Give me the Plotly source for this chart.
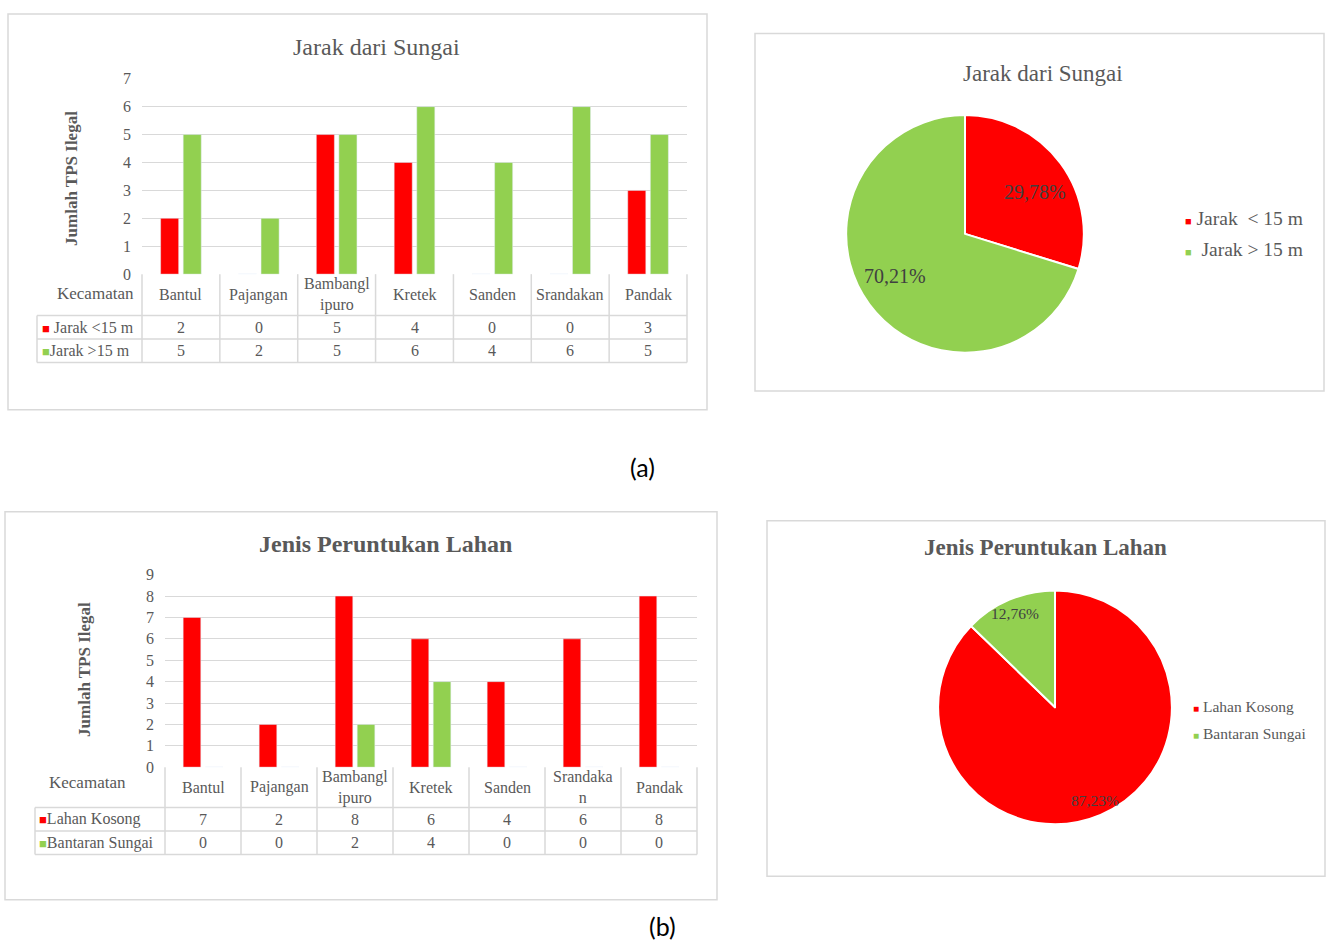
import math
import plotly.graph_objects as go

W, H = 1328, 951

# ---------------- data ----------------
kecamatan = ["Bantul", "Pajangan", "Bambanglipuro", "Kretek", "Sanden", "Srandakan", "Pandak"]
header_a = ["Bantul", "Pajangan", "Bambangl<br>ipuro", "Kretek", "Sanden", "Srandakan", "Pandak"]
header_b = ["Bantul", "Pajangan", "Bambangl<br>ipuro", "Kretek", "Sanden", "Srandaka<br>n", "Pandak"]

jarak_lt15 = [2, 0, 5, 4, 0, 0, 3]
jarak_gt15 = [5, 2, 5, 6, 4, 6, 5]
series_a_names = ["&nbsp;Jarak &lt;15 m", "Jarak &gt;15 m"]

lahan_kosong = [7, 2, 8, 6, 4, 6, 8]
bantaran_sungai = [0, 0, 2, 4, 0, 0, 0]
series_b_names = ["Lahan Kosong", "Bantaran Sungai"]

pie_a_labels = ["Jarak < 15 m", "Jarak > 15 m"]
pie_a_legend = ["Jarak&nbsp; &lt; 15 m", "&nbsp;Jarak &gt; 15 m"]
pie_a_values = [29.78, 70.21]

pie_b_labels = ["Lahan Kosong", "Bantaran Sungai"]
pie_b_values = [87.23, 12.76]

yticks_a = [0, 1, 2, 3, 4, 5, 6, 7]
yticks_b = [0, 1, 2, 3, 4, 5, 6, 7, 8, 9]

RED = "#FF0000"
GREEN = "#92D050"
TXT = "#595959"
PIE_TXT = "#404040"
GRID = "#D9D9D9"
SERIF = "Liberation Serif, Times New Roman, serif"
SANS = "Lato, Carlito, Calibri, sans-serif"


def px(x):
    return x / W


def py(y):
    return 1 - y / H


fig = go.Figure()

# ---------------- bar chart (a) ----------------
fig.add_trace(go.Bar(x=kecamatan, y=jarak_lt15, marker_color=RED, xaxis="x", yaxis="y",
                     showlegend=False, name="Jarak <15 m"))
fig.add_trace(go.Bar(x=kecamatan, y=jarak_gt15, marker_color=GREEN, xaxis="x", yaxis="y",
                     showlegend=False, name="Jarak >15 m"))
# ---------------- bar chart (b) ----------------
fig.add_trace(go.Bar(x=kecamatan, y=lahan_kosong, marker_color=RED, xaxis="x2", yaxis="y2",
                     showlegend=False, name="Lahan Kosong"))
fig.add_trace(go.Bar(x=kecamatan, y=bantaran_sungai, marker_color=GREEN, xaxis="x2", yaxis="y2",
                     showlegend=False, name="Bantaran Sungai"))

# ---------------- pies ----------------
PIE_A = dict(cx=965, cy=230, r=121, lab_r=0.68, size=20, rot=5)
PIE_B = dict(cx=1055, cy=712, r=119, lab_r=0.87, size=15.5, rot=0)


def add_pie(labels, values, g):
    fig.add_trace(go.Pie(
        labels=labels, values=values, sort=False, direction="clockwise", rotation=0,
        textinfo="none", showlegend=False,
        marker=dict(colors=[RED, GREEN], line=dict(color="white", width=2)),
        domain=dict(x=[px(g["cx"] - g["r"]), px(g["cx"] + g["r"])],
                    y=[py(g["cy"] + g["r"]), py(g["cy"] - g["r"])])))


add_pie(pie_a_labels, pie_a_values, PIE_A)
add_pie(pie_b_labels, pie_b_values, PIE_B)

# geometry of bar plots
A_X0, A_X1, A_Y0, A_Y1 = 142, 687, 271, 72
B_X0, B_X1, B_Y0, B_Y1 = 165, 697, 773, 577

axis_common = dict(showline=False, zeroline=False, ticks="", fixedrange=True)
fig.update_layout(
    width=W, height=H, margin=dict(l=0, r=0, t=0, b=0),
    paper_bgcolor="white", plot_bgcolor="white",
    separators=",.",
    barmode="group", bargap=0.42, bargroupgap=0.2,
    font=dict(family=SERIF, color=TXT),
    xaxis=dict(domain=[px(A_X0), px(A_X1)], showticklabels=False, showgrid=False,
               anchor="y", **axis_common),
    yaxis=dict(domain=[py(A_Y0), py(A_Y1)], range=[0, 7], tickvals=yticks_a,
               showgrid=True, gridcolor=GRID, gridwidth=1, anchor="x",
               tickfont=dict(family=SERIF, size=16, color=TXT), ticklabelstandoff=10,
               **axis_common),
    xaxis2=dict(domain=[px(B_X0), px(B_X1)], showticklabels=False, showgrid=False,
                anchor="y2", **axis_common),
    yaxis2=dict(domain=[py(B_Y0), py(B_Y1)], range=[0, 9], tickvals=yticks_b,
                showgrid=True, gridcolor=GRID, gridwidth=1, anchor="x2",
                tickfont=dict(family=SERIF, size=16, color=TXT), ticklabelstandoff=10,
                **axis_common),
)

shapes = []
annotations = []


def rect(x0, y0, x1, y1):
    shapes.append(dict(type="rect", xref="paper", yref="paper",
                       x0=px(x0), x1=px(x1), y0=py(y0), y1=py(y1),
                       line=dict(color=GRID, width=1.5), fillcolor="rgba(0,0,0,0)", layer="below"))


def hline(x0, x1, y):
    shapes.append(dict(type="line", xref="paper", yref="paper",
                       x0=px(x0), x1=px(x1), y0=py(y), y1=py(y),
                       line=dict(color=GRID, width=1.5)))


def vline(x, y0, y1):
    shapes.append(dict(type="line", xref="paper", yref="paper",
                       x0=px(x), x1=px(x), y0=py(y0), y1=py(y1),
                       line=dict(color=GRID, width=1.5)))


def text(x, y, s, size=16, color=TXT, xanchor="center", xref="paper", angle=0, bold=False,
         family=SERIF):
    if bold:
        s = "<b>" + s + "</b>"
    annotations.append(dict(x=(px(x) if xref == "paper" else x), y=py(y), xref=xref, yref="paper",
                            text=s, showarrow=False, xanchor=xanchor, yanchor="middle",
                            textangle=angle, font=dict(family=family, size=size, color=color)))


# outer boxes
rect(8, 6, 707, 409)
rect(755, 26, 1324, 390)
rect(5, 513, 717, 908)
rect(767, 522, 1325, 884)


def data_table(xaxis, x0, x1, lab_x0, y_zero, y_rows, header, series, names, colors,
               kec_pos, label_x):
    n = len(header)
    cw = (x1 - x0) / n
    for yy in y_rows:
        hline(lab_x0, x1, yy)
    for k in range(n + 1):
        vline(x0 + cw * k, y_zero, y_rows[-1])
    vline(lab_x0, y_rows[0], y_rows[-1])
    hdr_mid = (y_zero + y_rows[0]) / 2
    for i, h in enumerate(header):
        text(kecamatan[i], hdr_mid, h, size=16, xref=xaxis)
    text(kec_pos[0], kec_pos[1], "Kecamatan", size=17)
    for r, (vals, nm, col) in enumerate(zip(series, names, colors)):
        mid = (y_rows[r] + y_rows[r + 1]) / 2
        text(label_x, mid, "<span style='color:%s;font-size:13px'>■</span>%s" % (col, nm), size=16,
             xanchor="left")
        for i, v in enumerate(vals):
            text(kecamatan[i], mid, str(v), size=16, xref=xaxis)


data_table("x", A_X0, A_X1, 37, A_Y0, [313, 337, 361], header_a,
           [jarak_lt15, jarak_gt15], series_a_names, [RED, GREEN], (95, 291), 40)
data_table("x2", B_X0, B_X1, 35, B_Y0, [814, 838, 862], header_b,
           [lahan_kosong, bantaran_sungai], series_b_names, [RED, GREEN], (87, 789), 37)

# titles
text(377, 40, "Jarak dari Sungai", size=24)
text(385, 546, "Jenis Peruntukan Lahan", size=24, bold=True)
text(1043, 67, "Jarak dari Sungai", size=23)
text(1045, 549, "Jenis Peruntukan Lahan", size=23, bold=True)

# y-axis titles
text(72, 174, "Jumlah TPS Ilegal", size=17, angle=-90, bold=True)
text(85, 674, "Jumlah TPS Ilegal", size=17, angle=-90, bold=True)


# pie percentage labels, placed along each slice's mid-angle
def pie_labels(values, g):
    total = sum(values)
    cum = 0.0
    for v in values:
        mid = ((cum + v / 2) / total * 360 + g["rot"]) * math.pi / 180
        cum += v
        lx = g["cx"] + g["lab_r"] * g["r"] * math.sin(mid)
        ly = g["cy"] - g["lab_r"] * g["r"] * math.cos(mid)
        text(lx, ly, ("%.2f" % v).replace(".", ",") + "%", size=g["size"], color=PIE_TXT)


pie_labels(pie_a_values, PIE_A)
pie_labels(pie_b_values, PIE_B)

# pie legends
for i, (nm, col) in enumerate(zip(pie_a_legend, [RED, GREEN])):
    text(1183, 214 + 32 * i, "<span style='color:%s;font-size:11px'>■</span> %s" % (col, nm),
         size=19.5, xanchor="left")
for i, (nm, col) in enumerate(zip(pie_b_labels, [RED, GREEN])):
    text(1191, 711 + 28 * i, "<span style='color:%s;font-size:10px'>■</span> %s" % (col, nm),
         size=15.5, xanchor="left")

# captions
text(642, 467, "(a)", size=25, color="black", family=SANS)
text(662, 935, "(b)", size=25, color="black", family=SANS)

fig.update_layout(shapes=shapes, annotations=annotations)
fig.write_html("out.html")
